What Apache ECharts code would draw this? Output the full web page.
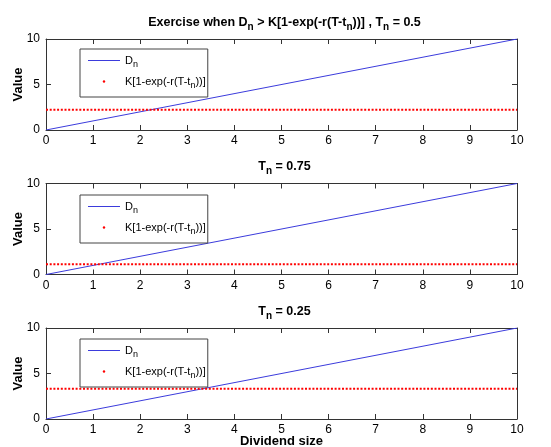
<!DOCTYPE html>
<html>
<head>
<meta charset="utf-8">
<script src="https://cdn.jsdelivr.net/npm/echarts@6/dist/echarts.min.js"></script>
<style>
html,body{margin:0;padding:0;background:#fff;}
#chart{width:551px;height:447px;}
</style>
</head>
<body>
<div id="chart"></div>
<script>
// ---- data ----
const dividendSize = [0, 10];          // x extent of the D_n line
const dnValues = [0, 10];              // D_n = dividend size
const kLevels = [2.22, 1.12, 3.32];    // K[1-exp(-r(T-t_n))] per panel
const panelTn = ['0.5', '0.75', '0.25'];
const seriesNames = ['Dn', 'K'];
const xAxisTitle = 'Dividend size';
const yAxisTitle = 'Value';

// ---- layout ----
const FONT = 'Liberation Sans, Arial, sans-serif';
const gridTops = [39, 183.5, 328];
const gridH = 91;
const gridLeft = 46;
const gridW = 471;
const legendTops = [49, 195, 339];
const axisColor = '#333';
const blue = '#3b3bdc';

const subRich = {
  sub: { fontSize: 9, fontFamily: FONT, padding: [8, 0, 0, 0], color: '#000' }
};
const subRichBold = {
  sub: { fontSize: 10, fontWeight: 'bold', fontFamily: FONT, padding: [9, 0, 0, 0], color: '#000' }
};

const grids = [], xAxes = [], yAxes = [], series = [], legends = [], titles = [];

for (let i = 0; i < 3; i++) {
  const dnName = seriesNames[0] + '_' + i;
  const kName = seriesNames[1] + '_' + i;
  grids.push({ left: gridLeft, top: gridTops[i], width: gridW, height: gridH, containLabel: false, outerBoundsMode: 'none' });
  const tickCommon = { show: true, inside: true, length: 5, lineStyle: { color: axisColor, width: 1 } };
  xAxes.push({
    type: 'value', gridIndex: i, position: 'bottom', min: 0, max: 10, interval: 1,
    axisLine: { show: true, onZero: false, lineStyle: { color: axisColor, width: 1 } },
    axisTick: tickCommon,
    axisLabel: { show: true, color: '#000', fontSize: 12, fontFamily: FONT, margin: 5 },
    splitLine: { show: false },
    name: i === 2 ? xAxisTitle : '',
    nameLocation: 'middle', nameGap: 16, nameMoveOverlap: false,
    nameTextStyle: { fontSize: 13, fontWeight: 'bold', fontFamily: FONT, color: '#000' }
  });
  xAxes.push({
    type: 'value', gridIndex: i, position: 'top', min: 0, max: 10, interval: 1,
    axisLine: { show: true, onZero: false, lineStyle: { color: axisColor, width: 1 } },
    axisTick: tickCommon, axisLabel: { show: false }, splitLine: { show: false }
  });
  yAxes.push({
    type: 'value', gridIndex: i, position: 'left', min: 0, max: 10, interval: 5,
    axisLine: { show: true, onZero: false, lineStyle: { color: axisColor, width: 1 } },
    axisTick: tickCommon,
    axisLabel: { show: true, color: '#000', fontSize: 12, fontFamily: FONT, margin: 6 },
    splitLine: { show: false },
    name: yAxisTitle, nameLocation: 'middle', nameGap: 21, nameRotate: 90, nameMoveOverlap: false,
    nameTextStyle: { fontSize: 13, fontWeight: 'bold', fontFamily: FONT, color: '#000' }
  });
  yAxes.push({
    type: 'value', gridIndex: i, position: 'right', min: 0, max: 10, interval: 5,
    axisLine: { show: true, onZero: false, lineStyle: { color: axisColor, width: 1 } },
    axisTick: tickCommon, axisLabel: { show: false }, splitLine: { show: false }
  });

  series.push({
    name: dnName, type: 'line', xAxisIndex: 2 * i, yAxisIndex: 2 * i,
    data: dividendSize.map((x, j) => [x, dnValues[j]]),
    symbol: 'none', color: blue, lineStyle: { color: blue, width: 1 },
    silent: true, animation: false
  });
  series.push({
    name: kName, type: 'line', xAxisIndex: 2 * i, yAxisIndex: 2 * i,
    data: [[dividendSize[0], kLevels[i]], [dividendSize[1], kLevels[i]]],
    symbol: 'none', color: '#ff0000',
    lineStyle: { color: '#ff0000', width: 2, type: [2, 1.7], cap: 'butt' },
    silent: true, animation: false
  });

  legends.push({
    orient: 'vertical', left: 80, top: legendTops[i],
    data: [
      { name: dnName, icon: 'path://M0,0H32V1H0Z', itemStyle: { color: blue, opacity: 1, borderWidth: 0 } },
      { name: kName, lineStyle: { opacity: 0 }, itemStyle: { color: '#ff0000' } }
    ],
    itemWidth: 32, itemHeight: 3, itemGap: 7,
    padding: [6, 2, 7, 7],
    borderColor: '#444', borderWidth: 1, backgroundColor: '#fff',
    selectedMode: false,
    formatter: function (name) {
      return name.indexOf('Dn') === 0 ? 'D{sub|n}' : 'K[1-exp(-r(T-t{sub|n}))]';
    },
    textStyle: { fontSize: 11, fontFamily: FONT, color: '#000', rich: subRich }
  });

  titles.push({
    text: i === 0
      ? 'Exercise when D{sub|n} > K[1-exp(-r(T-t{sub|n}))] , T{sub|n} = ' + panelTn[i]
      : 'T{sub|n} = ' + panelTn[i],
    left: gridLeft + gridW / 2 - 2, textAlign: 'center',
    top: gridTops[i] - 31,
    textStyle: { fontSize: 12.5, fontWeight: 'bold', fontFamily: FONT, color: '#000', rich: subRichBold }
  });
}

const chart = echarts.init(document.getElementById('chart'), null, { renderer: 'canvas' });
chart.setOption({
  animation: false,
  backgroundColor: '#fff',
  title: titles,
  legend: legends,
  grid: grids,
  xAxis: xAxes,
  yAxis: yAxes,
  series: series
});
</script>
</body>
</html>
